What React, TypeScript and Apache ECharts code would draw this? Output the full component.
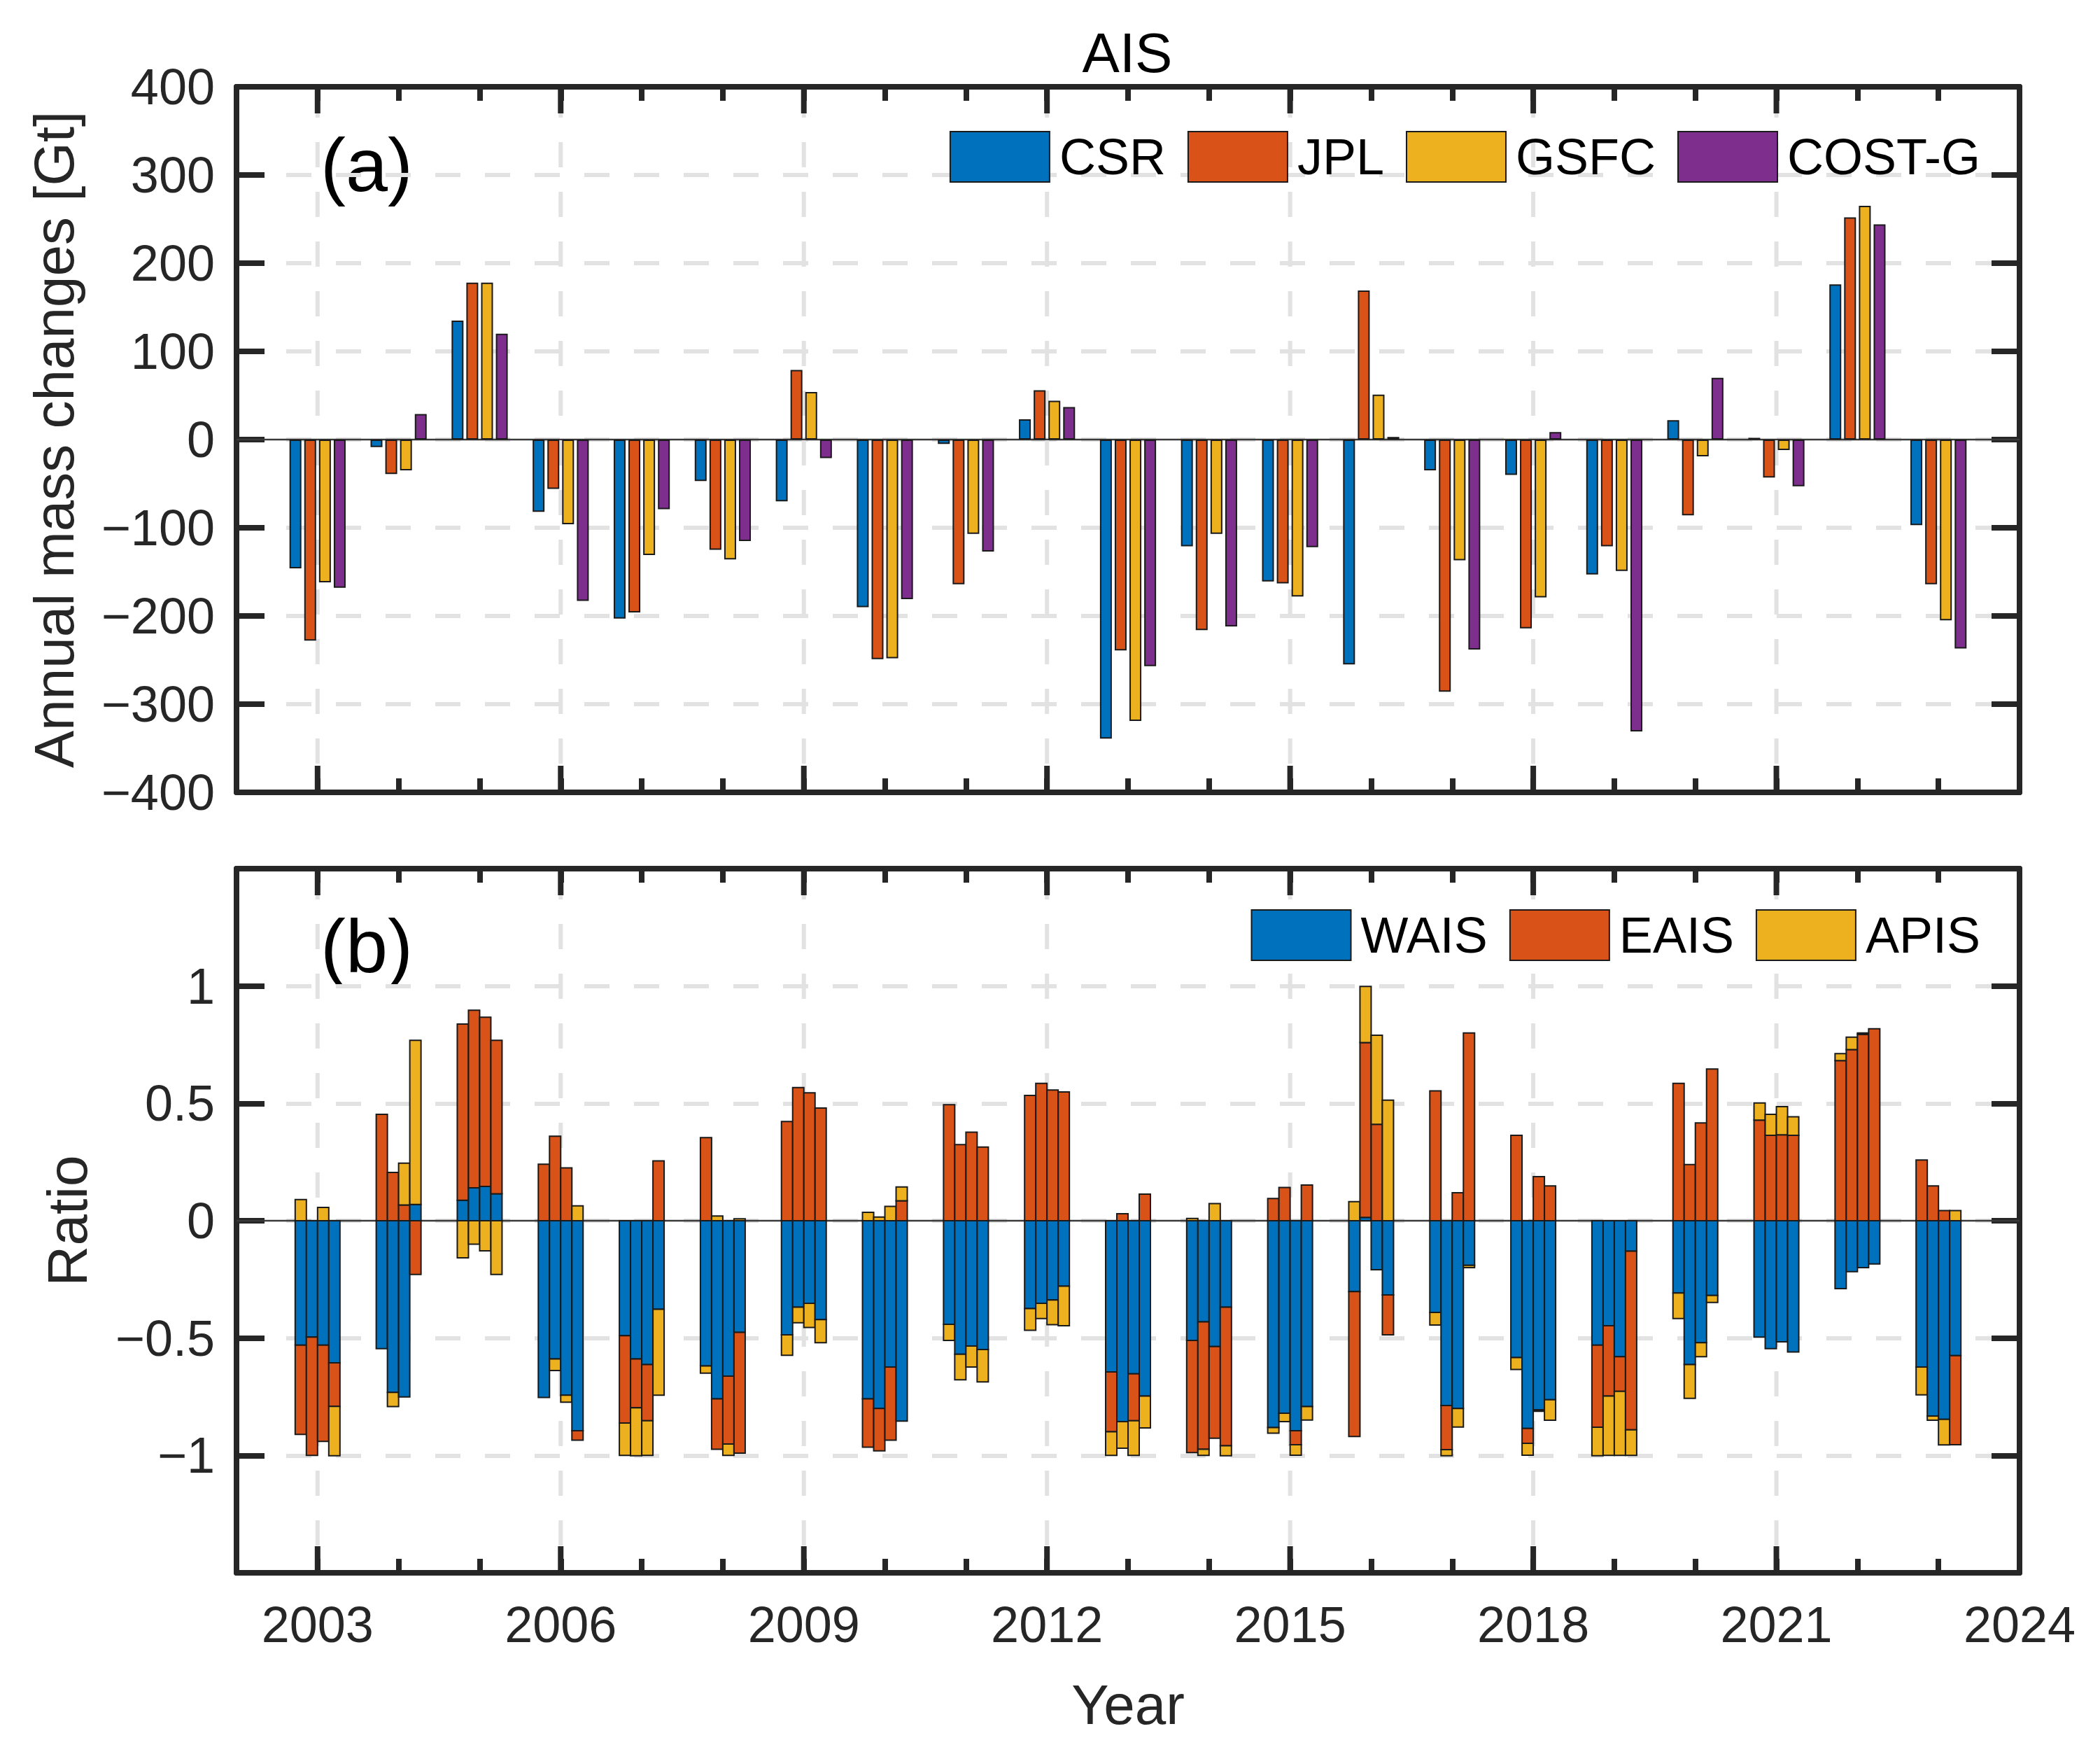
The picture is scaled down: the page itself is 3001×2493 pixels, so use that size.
import React, { useEffect, useRef } from "react";
import * as echarts from "echarts";

// ---------------- data ----------------
const years = [2003, 2004, 2005, 2006, 2007, 2008, 2009, 2010, 2011, 2012, 2013, 2014, 2015, 2016, 2017, 2018, 2019, 2020, 2021, 2022, 2023];
const majorYears = [2003, 2006, 2009, 2012, 2015, 2018, 2021];

const centers = ["CSR", "JPL", "GSFC", "COST-G"];
const csr = [-146, -8.5, 135, -82, -203, -47, -70, -190, -5, 23, -339, -121, -161, -255, -35, -40, -153, 22, 2, 176, -97];
const jpl = [-228, -39, 178, -56, -196, -125, 79, -249, -164, 56, -239, -216, -163, 169, -286, -214, -121, -86, -43, 252, -164];
const gsfc = [-162, -35, 178, -96, -131, -136, 54, -248, -107, 44, -319, -107, -178, 51, -137, -179, -149, -19, -12, 265, -205];
const costg = [-168, 29, 120, -183, -79, -115, -21, -181, -127, 37, -257, -212, -122, 3, -238, 8.5, -331, 70, -53, 244, -237];

const basins = ["WAIS", "EAIS", "APIS"];
// ratios, CSR
const waisCSR = [-0.53, -0.545, 0.087, -0.753, -0.49, -0.619, -0.486, -0.759, -0.441, -0.374, -0.644, -0.51, -0.881, -0.302, -0.391, -0.583, -0.53, -0.308, -0.496, -0.289, -0.623];
const eaisCSR = [-0.38, 0.453, 0.751, 0.241, -0.372, 0.354, 0.423, -0.206, 0.494, 0.534, -0.255, -0.478, 0.095, -0.617, 0.553, 0.364, -0.35, 0.585, 0.429, 0.682, 0.259];
const apisCSR = [0.09, 0, -0.158, 0, -0.138, -0.03, -0.087, 0.036, -0.069, -0.093, -0.101, 0.01, -0.024, 0.081, -0.053, -0.051, -0.121, -0.109, 0.073, 0.03, -0.119];
// ratios, JPL
const waisJPL = [-0.496, -0.731, 0.14, -0.589, -0.589, -0.759, -0.368, -0.8, -0.569, -0.352, -0.856, -0.431, -0.82, 0.014, -0.787, -0.885, -0.447, -0.613, -0.545, -0.217, -0.832];
const eaisJPL = [-0.504, 0.206, 0.757, 0.36, -0.208, -0.215, 0.567, -0.18, 0.324, 0.585, 0.03, -0.543, 0.142, 0.745, -0.188, -0.063, -0.3, 0.239, 0.364, 0.729, 0.148];
const apisJPL = [0, -0.061, -0.1, -0.049, -0.204, 0.02, -0.067, 0.016, -0.109, -0.065, -0.113, -0.026, -0.036, 0.239, -0.026, -0.051, -0.253, -0.144, 0.089, 0.053, -0.018];
// ratios, GSFC
const waisGSFC = [-0.53, -0.751, 0.146, -0.743, -0.613, -0.662, -0.352, -0.623, -0.534, -0.338, -0.652, -0.536, -0.895, -0.209, -0.8, -0.806, -0.579, -0.52, -0.516, -0.2, -0.846];
const eaisGSFC = [-0.41, 0.067, 0.721, 0.225, -0.239, -0.289, 0.545, -0.312, 0.377, 0.557, -0.2, -0.391, -0.059, 0.411, 0.119, 0.188, -0.148, 0.417, 0.366, 0.794, 0.043];
const apisGSFC = [0.057, 0.178, -0.128, -0.03, -0.148, -0.049, -0.103, 0.061, -0.089, -0.105, -0.148, 0.073, -0.045, 0.379, -0.079, -0.006, -0.273, -0.059, 0.12, 0.006, -0.109];
// ratios, COST-G
const waisCOSTG = [-0.605, 0.069, 0.115, -0.895, -0.377, -0.476, -0.421, -0.854, -0.549, -0.279, -0.747, -0.368, -0.792, -0.316, -0.19, -0.763, -0.13, -0.318, -0.559, -0.184, -0.575];
const eaisCOSTG = [-0.186, -0.229, 0.654, -0.04, 0.255, -0.514, 0.48, 0.085, 0.314, 0.549, 0.113, -0.591, 0.152, -0.17, 0.8, 0.148, -0.761, 0.646, 0.364, 0.818, -0.379];
const apisCOSTG = [-0.21, 0.7, -0.229, 0.063, -0.366, 0.008, -0.099, 0.059, -0.138, -0.168, -0.136, -0.042, -0.057, 0.514, -0.01, -0.087, -0.109, -0.03, 0.079, 0, 0.043];

// ---------------- styling ----------------
const FONT = '"Liberation Sans", Arial, Helvetica, sans-serif';
const AX = "#262626";
const GRIDC = "#e2e2e2";
const EDGE = "#1a1a1a";
const centerColors = ["#0072BD", "#D95319", "#EDB120", "#7E2F8E"];
const basinColors = ["#0072BD", "#D95319", "#EDB120"];

const fmtMinus = (v: number) => (v < 0 ? "\u2212" + String(Math.abs(v)) : String(v));

function buildOption() {
  const massSeries = [csr, jpl, gsfc, costg];
  const ratioSeries = [
    [waisCSR, eaisCSR, apisCSR],
    [waisJPL, eaisJPL, apisJPL],
    [waisGSFC, eaisGSFC, apisGSFC],
    [waisCOSTG, eaisCOSTG, apisCOSTG],
  ];

  const grids = [
    { left: 338, right: 115, top: 124, height: 1008 },
    { left: 338, right: 115, top: 1241, height: 1006 },
  ];

  const xBase = (gridIndex: number, position: string, withLabels: boolean) => ({
    type: "value",
    gridIndex,
    position,
    min: 2002,
    max: 2024,
    interval: 1,
    axisLine: { show: true, onZero: false, lineStyle: { color: AX, width: 8 } },
    axisTick: { show: true, inside: true, length: 20, lineStyle: { color: AX, width: 8 } },
    splitLine: { show: false },
    axisLabel: withLabels
      ? {
          show: true,
          margin: 38,
          color: AX,
          fontSize: 72,
          fontFamily: FONT,
          formatter: (v: number) => ((v - 2003) % 3 === 0 ? String(v) : ""),
        }
      : { show: false },
  });

  const xAxes: any[] = [xBase(0, "bottom", false), xBase(0, "top", false), xBase(1, "bottom", true), xBase(1, "top", false)];
  xAxes[2].name = "Year";
  xAxes[2].nameLocation = "middle";
  xAxes[2].nameGap = 148;
  xAxes[2].nameTextStyle = { color: AX, fontSize: 80, fontFamily: FONT };

  const yBase = (gridIndex: number, position: string, min: number, max: number, interval: number, left: boolean) => ({
    type: "value",
    gridIndex,
    position,
    min,
    max,
    interval,
    axisLine: { show: true, onZero: false, lineStyle: { color: AX, width: 8 } },
    axisTick: { show: true, inside: true, length: 40, lineStyle: { color: AX, width: 8 } },
    splitLine: left
      ? { show: true, lineStyle: { color: GRIDC, width: 6, type: [36, 35] } }
      : { show: false },
    axisLabel: left
      ? { show: true, margin: 31, color: AX, fontSize: 72, fontFamily: FONT }
      : { show: false },
  });

  const yAxes: any[] = [
    yBase(0, "left", -400, 400, 100, true),
    yBase(0, "right", -400, 400, 100, false),
    yBase(1, "left", -1.5, 1.5, 0.5, true),
    yBase(1, "right", -1.5, 1.5, 0.5, false),
  ];
  yAxes[0].axisLabel.formatter = (v: number) => fmtMinus(v);
  yAxes[0].name = "Annual mass changes [Gt]";
  yAxes[0].nameLocation = "middle";
  yAxes[0].nameGap = 221;
  yAxes[0].nameTextStyle = { color: AX, fontSize: 80, fontFamily: FONT };
  yAxes[2].axisLabel.formatter = (v: number) => (Math.abs(v) > 1.01 ? "" : fmtMinus(v));
  yAxes[2].name = "Ratio";
  yAxes[2].nameLocation = "middle";
  yAxes[2].nameGap = 202;
  yAxes[2].nameTextStyle = { color: AX, fontSize: 80, fontFamily: FONT };

  const series: any[] = [];

  // vertical dashed grid lines, long ticks at labelled years, zero line
  const majorLayer = (xi: number, yi: number, ymin: number, ymax: number) => ({
    type: "custom",
    xAxisIndex: xi,
    yAxisIndex: yi,
    silent: true,
    z: 1,
    data: majorYears.map((y) => [y, 0]),
    encode: { x: 0, y: 1 },
    renderItem: (params: any, api: any) => {
      const x = api.value(0);
      const top = api.coord([x, ymax]);
      const bot = api.coord([x, ymin]);
      const children: any[] = [
        {
          type: "line",
          shape: { x1: top[0], y1: top[1] + 8, x2: bot[0], y2: bot[1] - 8 },
          style: { stroke: GRIDC, lineWidth: 6, lineDash: [36, 35] },
        },
        {
          type: "line",
          shape: { x1: bot[0], y1: bot[1], x2: bot[0], y2: bot[1] - 38 },
          style: { stroke: AX, lineWidth: 8 },
        },
        {
          type: "line",
          shape: { x1: top[0], y1: top[1], x2: top[0], y2: top[1] + 38 },
          style: { stroke: AX, lineWidth: 8 },
        },
      ];
      if (params.dataIndex === 0) {
        const z0 = api.coord([2002, 0]);
        const z1 = api.coord([2024, 0]);
        children.push({
          type: "line",
          shape: { x1: z0[0], y1: z0[1], x2: z1[0], y2: z1[1] },
          style: { stroke: "#3a3a3a", lineWidth: 2.5 },
        });
      }
      return { type: "group", children };
    },
  });
  series.push(majorLayer(0, 0, -400, 400));
  series.push(majorLayer(2, 2, -1.5, 1.5));

  // panel (a): grouped bars
  centers.forEach((c, i) => {
    series.push({
      type: "bar",
      name: c,
      xAxisIndex: 0,
      yAxisIndex: 0,
      barWidth: 17,
      barGap: "24%",
      z: 3,
      data: years.map((y, j) => [y, massSeries[i][j]]),
      itemStyle: { color: centerColors[i], borderColor: EDGE, borderWidth: 2 },
    });
  });

  // panel (b): stacked bars (positive and negative parts stacked separately)
  const BW = 16;
  centers.forEach((c, i) => {
    const pos = years.map(() => 0);
    const neg = years.map(() => 0);
    basins.forEach((b, k) => {
      const data = years.map((y, j) => {
        const v = ratioSeries[i][k][j];
        let b0: number;
        let b1: number;
        if (v >= 0) {
          b0 = pos[j];
          pos[j] += v;
          b1 = pos[j];
        } else {
          b0 = neg[j];
          neg[j] += v;
          b1 = neg[j];
        }
        return [y, b0, b1];
      });
      const offset = (i - 1.5) * BW;
      series.push({
        type: "custom",
        name: b,
        xAxisIndex: 2,
        yAxisIndex: 2,
        z: 3,
        data,
        encode: { x: 0, y: [1, 2] },
        itemStyle: { color: basinColors[k], borderColor: EDGE, borderWidth: 2 },
        renderItem: (_params: any, api: any) => {
          const x = api.value(0);
          const y0 = api.value(1);
          const y1 = api.value(2);
          if (Math.abs(y1 - y0) < 1e-9) return null;
          const p0 = api.coord([x, y0]);
          const p1 = api.coord([x, y1]);
          return {
            type: "rect",
            shape: {
              x: p0[0] + offset - BW / 2,
              y: Math.min(p0[1], p1[1]),
              width: BW,
              height: Math.abs(p1[1] - p0[1]),
            },
            style: { fill: basinColors[k], stroke: EDGE, lineWidth: 2 },
          };
        },
      });
    });
  });

  const legendCommon = {
    orient: "horizontal",
    icon: "rect",
    itemWidth: 142,
    itemHeight: 72,
    itemGap: 31,
    selectedMode: false,
    itemStyle: { borderColor: EDGE, borderWidth: 2 },
    textStyle: { color: "#000", fontSize: 72, fontFamily: FONT, padding: [0, 0, 0, 9] },
  };

  return {
    animation: false,
    backgroundColor: "#ffffff",
    grid: grids,
    xAxis: xAxes,
    yAxis: yAxes,
    legend: [
      { ...legendCommon, data: centers, right: 166, top: 182 },
      {
        ...legendCommon,
        data: basins.map((b, k) => ({ name: b, itemStyle: { color: basinColors[k], borderColor: EDGE, borderWidth: 2 } })),
        right: 166,
        top: 1294,
      },
    ],
    graphic: [
      {
        type: "text",
        x: 1611,
        y: 75,
        style: { text: "AIS", fill: "#000", font: `80px ${FONT}`, align: "center", verticalAlign: "middle", textAlign: "center", textVerticalAlign: "middle" },
      },
      {
        type: "text",
        x: 458,
        y: 235,
        style: { text: "(a)", fill: "#000", font: `108px ${FONT}`, align: "left", verticalAlign: "middle", textAlign: "left", textVerticalAlign: "middle" },
      },
      {
        type: "text",
        x: 458,
        y: 1351,
        style: { text: "(b)", fill: "#000", font: `108px ${FONT}`, align: "left", verticalAlign: "middle", textAlign: "left", textVerticalAlign: "middle" },
      },
    ],
    series,
  };
}

export default function App() {
  const ref = useRef<HTMLDivElement>(null);
  useEffect(() => {
    if (!ref.current) return;
    const chart = echarts.init(ref.current, undefined, { renderer: "svg" });
    chart.setOption(buildOption() as any);
    return () => chart.dispose();
  }, []);
  return (
    <div
      ref={ref}
      style={{ position: "absolute", left: 0, top: 0, width: 3001, height: 2493, background: "#fff" }}
    />
  );
}
